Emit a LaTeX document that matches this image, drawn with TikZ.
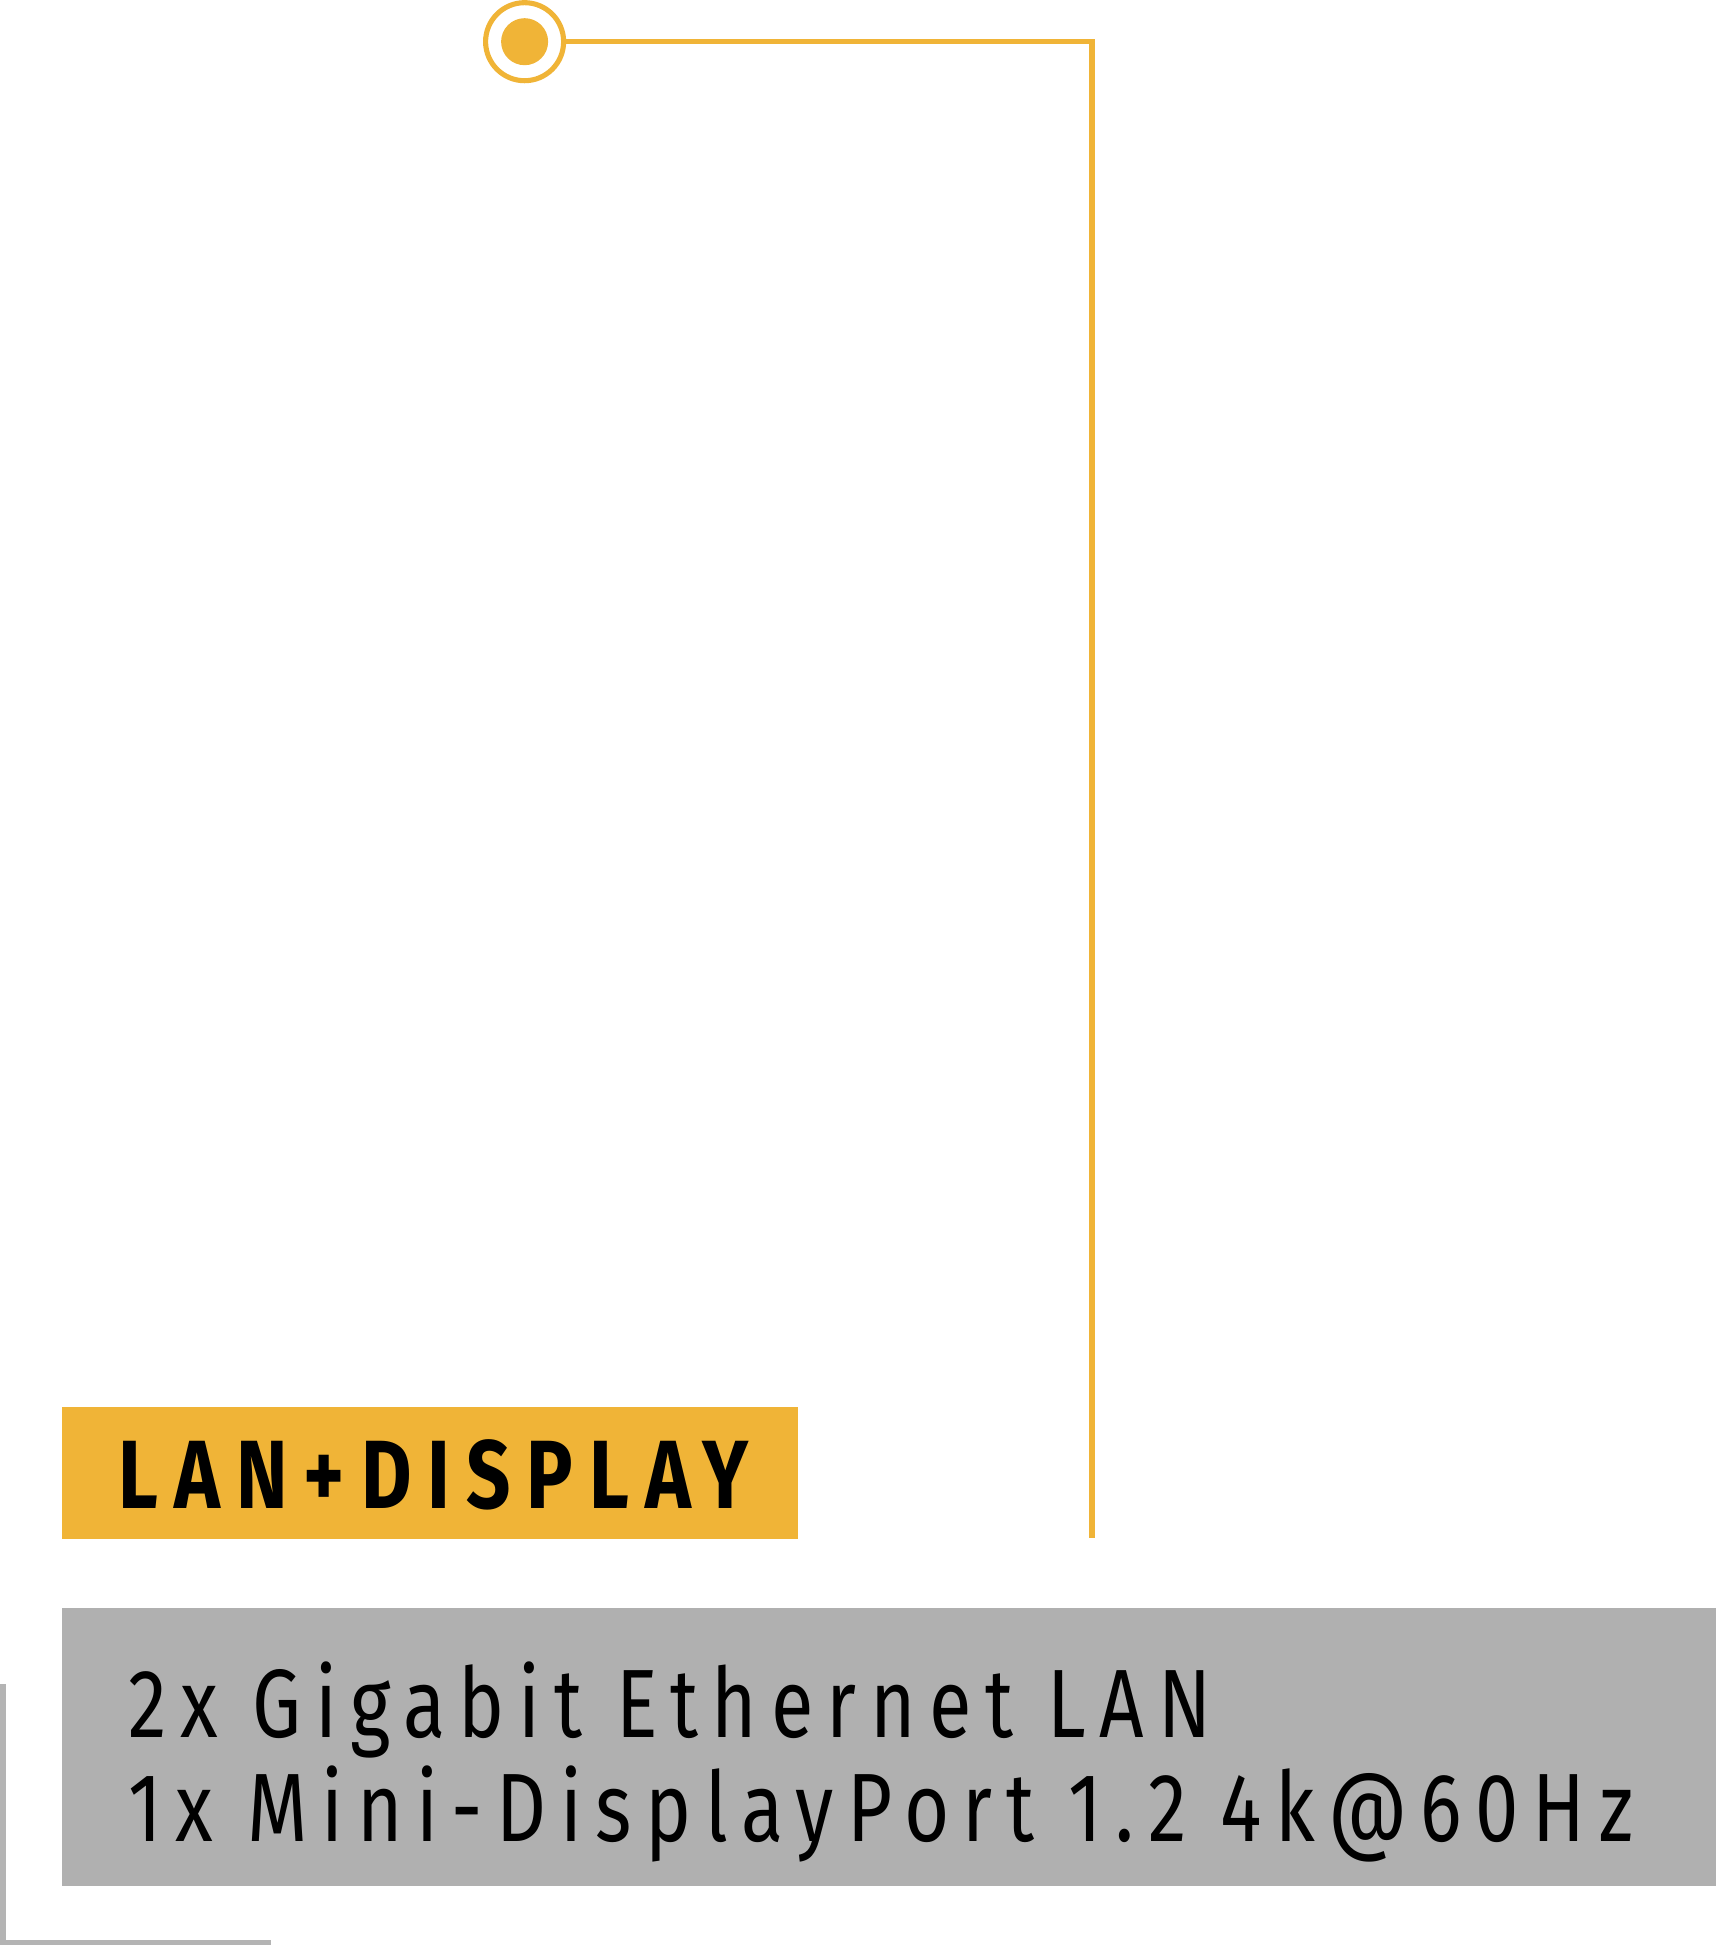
\documentclass[tikz,border=0pt]{standalone}
\usepackage{fontspec}
\setmainfont{Fira Sans}
\newfontfamily\specfont[FakeStretch=0.80,LetterSpace=14]{Fira Sans}
\newfontfamily\tagfont[FakeStretch=0.80,LetterSpace=16.5]{Fira Sans Bold}
\definecolor{tagorange}{RGB}{240,180,55}
\definecolor{specgray}{RGB}{176,176,176}
\definecolor{framegray}{RGB}{180,180,180}
\tikzset{
	lead/.style={tagorange, line width=1.45pt},
	frame/.style={framegray, line width=1.55pt},
}

\begin{document}
\begin{tikzpicture}[x=0.01cm, y=-0.01cm]

	\useasboundingbox (0,0) rectangle (1716,1946);

	\node[circle, draw=tagorange, line width=1.45pt, minimum size=0.78cm, inner sep=0pt] (dot) at (524.6,41.7) {};
	\node[circle, fill=tagorange, minimum size=0.47cm, inner sep=0pt] (dotcore) at (dot.center) {};
	\coordinate (leadend) at (1092,1538);
	\draw[lead] (dot.east) -| (leadend);

	\node[fill=tagorange, anchor=north west, minimum width=7.36cm, minimum height=1.32cm, inner sep=0pt] (tag) at (61,1406) {};
	\node[anchor=base west, inner sep=0pt, font=\tagfont\fontsize{27.6pt}{30pt}\selectfont, text=black] (tagtext) at (118,1508) {LAN+DISPLAY};

	\node[fill=specgray, anchor=north west, minimum width=16.55cm, minimum height=2.78cm, inner sep=0pt] (spec) at (61,1607) {};
	\node[anchor=base west, inner sep=0pt, font=\specfont\fontsize{27.6pt}{30pt}\selectfont] (lanline) at (128,1737) {2x Gigabit Ethernet LAN};
	\node[anchor=base west, inner sep=0pt, font=\specfont\fontsize{27.6pt}{30pt}\selectfont] (dpline) at (128,1841) {1x Mini-DisplayPort 1.2 4k@60Hz};

	\coordinate (frametop) at (2.8,1684);
	\coordinate (frameend) at (271,1942.5);
	\draw[frame] (frametop) |- (frameend);

\end{tikzpicture}
\end{document}
